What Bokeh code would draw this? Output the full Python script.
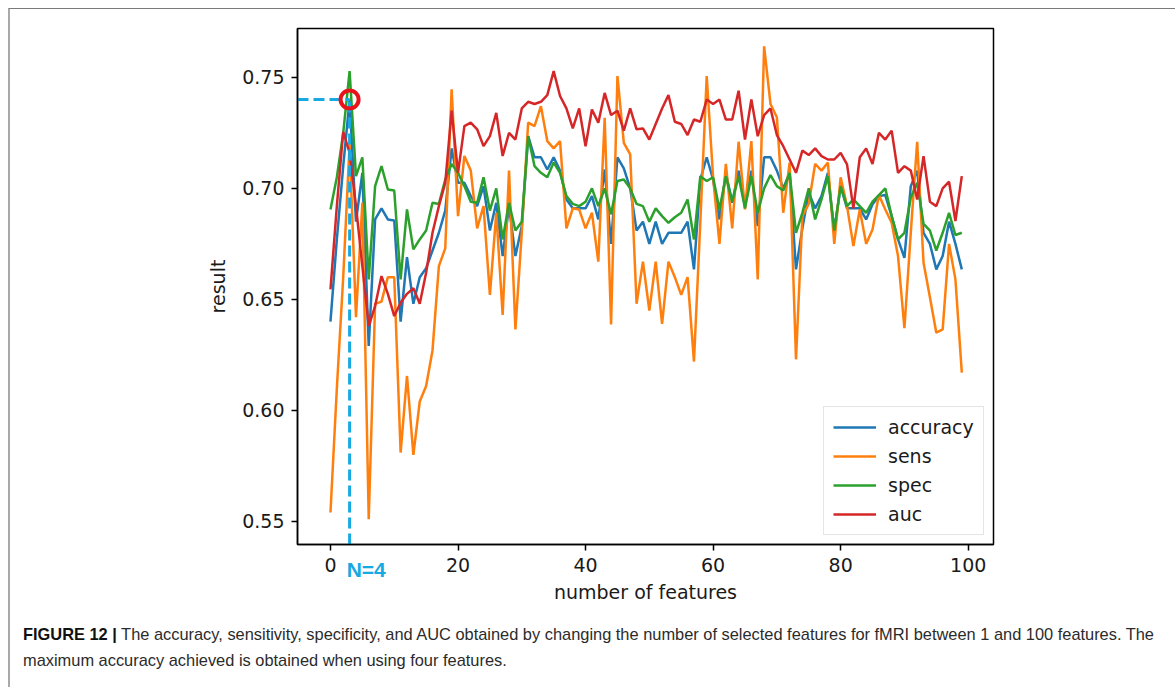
from bokeh.plotting import figure
from bokeh.layouts import column
from bokeh.models import (Legend, LegendItem, FixedTicker, PrintfTickFormatter, Range1d,
                          LinearAxis, Div)
from bokeh.embed import file_html
from bokeh.resources import INLINE

n_features = list(range(100))

accuracy = [0.640, 0.677, 0.710, 0.740, 0.685, 0.707, 0.629, 0.686, 0.691, 0.686,
            0.6855, 0.640, 0.669, 0.648, 0.660, 0.664, 0.672, 0.680, 0.690, 0.718,
            0.7025, 0.7025, 0.6965, 0.692, 0.701, 0.681, 0.6935, 0.6695, 0.692, 0.6695,
            0.683, 0.7235, 0.714, 0.714, 0.7085, 0.714, 0.708, 0.695, 0.691, 0.691,
            0.691, 0.6965, 0.686, 0.7085, 0.675, 0.714, 0.709, 0.700, 0.681, 0.685,
            0.675, 0.685, 0.675, 0.680, 0.680, 0.680, 0.685, 0.6635, 0.704, 0.714,
            0.704, 0.686, 0.707, 0.6935, 0.708, 0.692, 0.708, 0.683, 0.714, 0.714,
            0.708, 0.700, 0.707, 0.6635, 0.682, 0.698, 0.691, 0.6965, 0.707, 0.681,
            0.701, 0.691, 0.691, 0.691, 0.686, 0.6928, 0.6965, 0.697, 0.6875, 0.677,
            0.6687, 0.701, 0.708, 0.680, 0.675, 0.6635, 0.6695, 0.685, 0.675, 0.6635]

sens = [0.554, 0.610, 0.660, 0.720, 0.642, 0.6935, 0.551, 0.648, 0.649, 0.660,
        0.660, 0.581, 0.6155, 0.580, 0.604, 0.611, 0.627, 0.665, 0.673, 0.7446,
        0.6875, 0.7146, 0.708, 0.682, 0.692, 0.652, 0.689, 0.643, 0.708, 0.6365,
        0.680, 0.7296, 0.728, 0.737, 0.7213, 0.718, 0.7213, 0.682, 0.691, 0.6905,
        0.682, 0.689, 0.667, 0.7318, 0.6387, 0.7506, 0.7205, 0.7153, 0.648, 0.667,
        0.645, 0.667, 0.639, 0.667, 0.660, 0.652, 0.660, 0.622, 0.685, 0.7506,
        0.705, 0.675, 0.711, 0.682, 0.721, 0.6905, 0.7213, 0.659, 0.764, 0.738,
        0.732, 0.689, 0.7116, 0.623, 0.6875, 0.693, 0.711, 0.708, 0.7116, 0.675,
        0.705, 0.692, 0.674, 0.6905, 0.675, 0.6815, 0.697, 0.6905, 0.6845, 0.6695,
        0.637, 0.680, 0.721, 0.6665, 0.651, 0.635, 0.6365, 0.675, 0.659, 0.617]

spec = [0.6905, 0.705, 0.725, 0.7528, 0.7055, 0.714, 0.659, 0.701, 0.710, 0.6995,
        0.699, 0.659, 0.6905, 0.6725, 0.677, 0.681, 0.6935, 0.693, 0.704, 0.711,
        0.707, 0.701, 0.694, 0.6935, 0.705, 0.690, 0.700, 0.677, 0.6935, 0.681,
        0.685, 0.7235, 0.710, 0.707, 0.705, 0.7116, 0.707, 0.6965, 0.693, 0.692,
        0.694, 0.700, 0.692, 0.700, 0.6883, 0.7033, 0.704, 0.700, 0.693, 0.692,
        0.685, 0.691, 0.6875, 0.6845, 0.687, 0.689, 0.695, 0.677, 0.7055, 0.7033,
        0.705, 0.6905, 0.7055, 0.694, 0.7055, 0.691, 0.7055, 0.689, 0.700, 0.706,
        0.701, 0.699, 0.707, 0.680, 0.689, 0.700, 0.686, 0.695, 0.7055, 0.681,
        0.701, 0.692, 0.695, 0.692, 0.689, 0.694, 0.697, 0.700, 0.6875, 0.677,
        0.680, 0.6958, 0.7025, 0.684, 0.681, 0.672, 0.680, 0.689, 0.679, 0.680]

auc = [0.6545, 0.692, 0.7255, 0.716, 0.692, 0.665, 0.638, 0.647, 0.6605, 0.6525,
       0.6425, 0.6485, 0.6525, 0.655, 0.648, 0.662, 0.680, 0.692, 0.7025, 0.735,
       0.707, 0.728, 0.7296, 0.7266, 0.719, 0.7235, 0.734, 0.7146, 0.725, 0.722,
       0.736, 0.739, 0.738, 0.739, 0.742, 0.7528, 0.7416, 0.736, 0.727, 0.736,
       0.719, 0.7355, 0.7296, 0.743, 0.733, 0.735, 0.726, 0.736, 0.7266, 0.727,
       0.722, 0.729, 0.736, 0.742, 0.730, 0.729, 0.724, 0.731, 0.730, 0.740,
       0.738, 0.740, 0.731, 0.731, 0.744, 0.722, 0.740, 0.7235, 0.733, 0.736,
       0.724, 0.719, 0.713, 0.707, 0.717, 0.715, 0.718, 0.7145, 0.713, 0.713,
       0.716, 0.7108, 0.691, 0.714, 0.718, 0.711, 0.725, 0.722, 0.726, 0.707,
       0.710, 0.708, 0.695, 0.7145, 0.694, 0.692, 0.700, 0.703, 0.6853, 0.7055]

series_names = ["accuracy", "sens", "spec", "auc"]
series_colors = ["#1f77b4", "#ff7f0e", "#2ca02c", "#d62728"]

x_ticks = [0, 20, 40, 60, 80, 100]
y_ticks = [0.55, 0.60, 0.65, 0.70, 0.75]

best_n = 4
best_acc = 0.74
best_label = "N=4"

caption_bold = "FIGURE 12 |"
caption_line1 = ("The accuracy, sensitivity, specificity, and AUC obtained by changing the number "
                 "of selected features for fMRI between 1 and 100 features. The")
caption_line2 = "maximum accuracy achieved is obtained when using four features."

# page geometry: the figure sits inside a framed box starting at (10, 10)
PW, PH = 1165, 600
x0, x1 = -5.17, 103.97
y0, y1 = 0.5396, 0.772

p = figure(width=PW, height=PH, output_backend="svg", toolbar_location=None,
           x_range=Range1d(x0, x1), y_range=Range1d(y0, y1),
           min_border_left=287, min_border_right=182, min_border_top=19,
           min_border_bottom=65)
p.background_fill_color = "white"
p.border_fill_color = "white"
p.outline_line_color = "black"
p.outline_line_width = 1.5
p.xgrid.visible = False
p.ygrid.visible = False

for ax in (p.xaxis[0], p.yaxis[0]):
    ax.axis_line_color = "black"
    ax.axis_line_width = 1.5
    ax.major_tick_line_color = "black"
    ax.major_tick_line_width = 1.5
    ax.major_tick_in = 0
    ax.major_tick_out = 6
    ax.minor_tick_line_color = None
    ax.major_label_text_font = "DejaVu Sans"
    ax.major_label_text_font_size = "19px"
    ax.major_label_text_color = "#1a1a1a"
    ax.axis_label_text_font = "DejaVu Sans"
    ax.axis_label_text_font_size = "19px"
    ax.axis_label_text_font_style = "normal"
    ax.axis_label_text_color = "#1a1a1a"
    ax.major_label_standoff = 7

p.xaxis.ticker = FixedTicker(ticks=x_ticks)
p.yaxis.ticker = FixedTicker(ticks=y_ticks)
p.yaxis.formatter = PrintfTickFormatter(format="%.2f")
p.yaxis.axis_label = "result"
p.yaxis.axis_label_standoff = 10

renderers = []
for name, color, vals in zip(series_names, series_colors, [accuracy, sens, spec, auc]):
    r = p.line(n_features, vals, line_color=color, line_width=2.5)
    renderers.append(r)

# annotation of the best number of features
ann_color = "#17a9e1"
bx = best_n - 1
p.line([x0, bx], [best_acc, best_acc], line_color=ann_color, line_width=3, line_dash="11 5")
p.line([bx, bx], [y0, best_acc], line_color=ann_color, line_width=3, line_dash="11 5")
p.scatter([bx], [best_acc], marker="circle", size=18, fill_color=None,
          line_color="#e8131b", line_width=4)

# second x axis: carries the "N=4" mark (same row as the tick labels) and the axis title
label_x = bx + 2.6
ax2 = LinearAxis(ticker=FixedTicker(ticks=[label_x]),
                 major_label_overrides={label_x: best_label})
ax2.axis_line_color = None
ax2.major_tick_line_color = None
ax2.minor_tick_line_color = None
ax2.major_tick_in = 0
ax2.major_tick_out = 0
ax2.major_label_standoff = -17
ax2.major_label_text_font = "Liberation Sans"
ax2.major_label_text_font_style = "bold"
ax2.major_label_text_font_size = "21px"
ax2.major_label_text_color = ann_color
ax2.axis_label = "number of features"
ax2.axis_label_text_font = "DejaVu Sans"
ax2.axis_label_text_font_size = "19px"
ax2.axis_label_text_font_style = "normal"
ax2.axis_label_text_color = "#1a1a1a"
ax2.axis_label_standoff = -3
p.add_layout(ax2, "below")

legend = Legend(items=[LegendItem(label=n, renderers=[r]) for n, r in zip(series_names, renderers)],
                location=(526, 9))
legend.label_text_font = "DejaVu Sans"
legend.label_text_font_size = "19px"
legend.label_text_color = "#1a1a1a"
legend.glyph_width = 43
legend.glyph_height = 22
legend.label_height = 22
legend.label_standoff = 12
legend.spacing = 7
legend.padding = 9
legend.margin = 0
legend.border_line_color = "#cccccc"
legend.border_line_width = 1.5
legend.background_fill_alpha = 0.85
p.add_layout(legend)

cap_html = (
    '<div style="font-family: \'Liberation Sans\', Arial, sans-serif; font-size: 16.4px; '
    'line-height: 26px; color: #2b2b2b; white-space: nowrap; padding: 7px 0 0 8px;">'
    f'<span style="font-weight: bold; color: #111;">{caption_bold}</span> {caption_line1}<br>'
    f'{caption_line2}</div>'
)
cap = Div(text=cap_html, width=PW, height=77)

page = column(p, cap, margin=(8, 0, 0, 8),
              styles={"border-top": "1.5px solid #7a7a7a",
                      "border-left": "2px solid #a9a9a9",
                      "background-color": "white"})

open("out.html", "w").write(file_html(page, INLINE))
